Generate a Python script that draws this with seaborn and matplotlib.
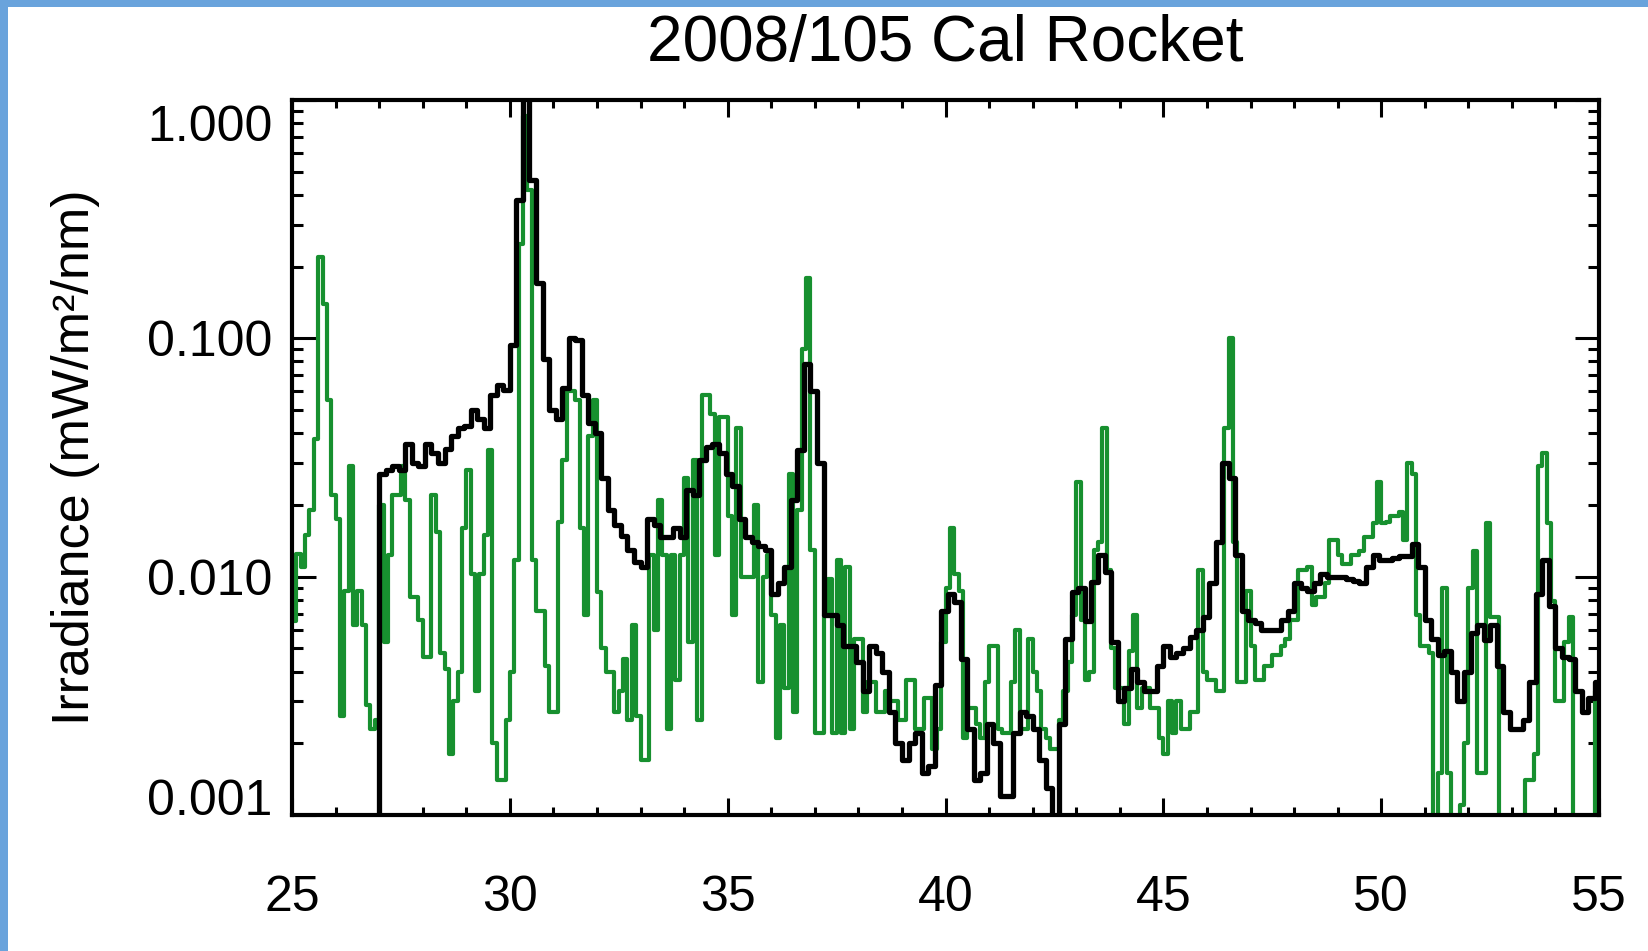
import numpy as np
import pandas as pd
import matplotlib
matplotlib.use("Agg")
import matplotlib.pyplot as plt
from matplotlib.patches import Rectangle
from matplotlib.transforms import ScaledTranslation
from matplotlib.ticker import FixedLocator, LogLocator, NullFormatter, MultipleLocator
import seaborn as sns

# ---------------------------------------------------------------- data
title = "2008/105 Cal Rocket"
y_label = "Irradiance (mW/m²/nm)"
x_ticks = [25, 30, 35, 40, 45, 50, 55]
y_ticks = [0.001, 0.01, 0.1, 1.0]
y_tick_labels = ["0.001", "0.010", "0.100", "1.000"]

# black spectrum: 0.15 nm bins, centres from 26.925 nm (first bin empty)
black_start, black_step = 26.925, 0.15
black_irr = [
    0.0005,
    # 27.00 - 28.35
    0.027, 0.028, 0.029, 0.028, 0.036, 0.030, 0.029, 0.036, 0.033, 0.030,
    # 28.50 - 29.85
    0.0345, 0.039, 0.042, 0.043, 0.050, 0.046, 0.042, 0.058, 0.064, 0.061,
    # 30.00 - 31.35
    0.094, 0.38, 1.15, 0.46, 0.17, 0.082, 0.050, 0.046, 0.062, 0.100,
    # 31.50 - 32.85
    0.098, 0.058, 0.044, 0.040, 0.026, 0.019, 0.0165, 0.0148, 0.013, 0.0115,
    # 33.00 - 34.35
    0.011, 0.0175, 0.0165, 0.0147, 0.0147, 0.016, 0.0147, 0.023, 0.022, 0.031,
    # 34.50 - 35.85
    0.035, 0.036, 0.033, 0.027, 0.024, 0.0175, 0.0147, 0.014, 0.0135, 0.013,
    # 36.00 - 37.35
    0.0085, 0.0094, 0.011, 0.021, 0.034, 0.078, 0.060, 0.030, 0.0069, 0.0069,
    # 37.50 - 38.85
    0.0063, 0.0051, 0.0051, 0.0044, 0.0033, 0.0051, 0.0048, 0.0040, 0.0027, 0.0020,
    # 39.00 - 40.35
    0.0017, 0.0020, 0.0022, 0.0015, 0.0016, 0.0035, 0.0072, 0.0085, 0.0078, 0.0045,
    # 40.50 - 41.85
    0.0023, 0.0014, 0.0015, 0.0024, 0.0020, 0.0012, 0.0012, 0.0022, 0.0027, 0.0026,
    # 42.00 - 43.35
    0.0023, 0.0017, 0.0013, 0.0009, 0.0024, 0.0055, 0.0086, 0.0090, 0.0065, 0.0095,
    # 43.50 - 44.85
    0.0123, 0.0105, 0.0053, 0.0030, 0.0034, 0.0041, 0.0036, 0.0033, 0.0033, 0.0042,
    # 45.00 - 46.35
    0.0051, 0.0046, 0.0048, 0.0050, 0.0056, 0.0060, 0.0068, 0.0094, 0.014, 0.030,
    # 46.50 - 47.85
    0.026, 0.0123, 0.0072, 0.0066, 0.0064, 0.0060, 0.0060, 0.0060, 0.0066, 0.0072,
    # 48.00 - 49.35
    0.0094, 0.0090, 0.0087, 0.0094, 0.0103, 0.0100, 0.0100, 0.0100, 0.0098, 0.0096,
    # 49.50 - 50.85
    0.0094, 0.011, 0.0123, 0.0118, 0.0118, 0.0120, 0.0122, 0.0122, 0.0137, 0.011,
    # 51.00 - 52.35
    0.0066, 0.0055, 0.0047, 0.0049, 0.0040, 0.0030, 0.0040, 0.0058, 0.0063, 0.0054,
    # 52.50 - 53.85
    0.0063, 0.0042, 0.0027, 0.0023, 0.0023, 0.0025, 0.0036, 0.0085, 0.0118, 0.0075,
    # 54.00 - 54.90
    0.0050, 0.0046, 0.0045, 0.0033, 0.0027, 0.0031, 0.0036,
]

# green spectrum: 0.1 nm bins, centres from 25.05 nm
green_start, green_step = 25.05, 0.1
green_irr = [
    # 25 - 26 nm
    0.0065, 0.0125, 0.011, 0.015, 0.019, 0.038, 0.22, 0.14, 0.055, 0.022,
    # 26 - 27
    0.0175, 0.0026, 0.0087, 0.029, 0.0063, 0.0087, 0.0063, 0.0029, 0.0023, 0.0025,
    # 27 - 28
    0.020, 0.0053, 0.0123, 0.022, 0.022, 0.029, 0.021, 0.0082, 0.0082, 0.0066,
    # 28 - 29
    0.0046, 0.0046, 0.022, 0.0154, 0.0048, 0.0041, 0.0018, 0.0030, 0.0040, 0.016,
    # 29 - 30
    0.028, 0.0103, 0.0033, 0.0103, 0.015, 0.034, 0.0020, 0.0014, 0.0014, 0.0025,
    # 30 - 31
    0.0040, 0.0118, 0.25, 0.86, 0.42, 0.0118, 0.0072, 0.0072, 0.0042, 0.0027,
    # 31 - 32
    0.0027, 0.017, 0.031, 0.060, 0.060, 0.055, 0.016, 0.0069, 0.039, 0.055,
    # 32 - 33
    0.0086, 0.0050, 0.0040, 0.0040, 0.0027, 0.0033, 0.0045, 0.0025, 0.0063, 0.0026,
    # 33 - 34
    0.0017, 0.0017, 0.0123, 0.0060, 0.021, 0.0123, 0.0023, 0.0123, 0.0037, 0.0123,
    # 34 - 35
    0.026, 0.0053, 0.031, 0.0025, 0.058, 0.058, 0.048, 0.0123, 0.047, 0.047,
    # 35 - 36
    0.018, 0.0069, 0.042, 0.010, 0.010, 0.010, 0.020, 0.0036, 0.010, 0.0123,
    # 36 - 37
    0.0069, 0.0021, 0.0063, 0.0034, 0.027, 0.0027, 0.019, 0.090, 0.18, 0.013,
    # 37 - 38
    0.0022, 0.0022, 0.0069, 0.0098, 0.0022, 0.0118, 0.0022, 0.011, 0.0023, 0.0055,
    # 38 - 39
    0.0055, 0.0027, 0.0036, 0.0036, 0.0027, 0.0027, 0.0033, 0.0030, 0.0030, 0.0025,
    # 39 - 40
    0.0025, 0.0037, 0.0037, 0.0023, 0.0023, 0.0031, 0.0031, 0.0019, 0.0023, 0.0053,
    # 40 - 41
    0.0090, 0.016, 0.0103, 0.0087, 0.0021, 0.0028, 0.0028, 0.0024, 0.0021, 0.0036,
    # 41 - 42
    0.0051, 0.0051, 0.0023, 0.0022, 0.0022, 0.0036, 0.0060, 0.0023, 0.0023, 0.0055,
    # 42 - 43
    0.0040, 0.0033, 0.0023, 0.0021, 0.0019, 0.0019, 0.0025, 0.0033, 0.0044, 0.0069,
    # 43 - 44
    0.025, 0.0066, 0.0037, 0.0040, 0.013, 0.014, 0.042, 0.0107, 0.0050, 0.0034,
    # 44 - 45
    0.0034, 0.0024, 0.0049, 0.0069, 0.0028, 0.0034, 0.0034, 0.0028, 0.0028, 0.0021,
    # 45 - 46
    0.0018, 0.0030, 0.0022, 0.0030, 0.0023, 0.0023, 0.0027, 0.0027, 0.0107, 0.0040,
    # 46 - 47
    0.0037, 0.0037, 0.0033, 0.0033, 0.042, 0.10, 0.014, 0.0036, 0.0036, 0.0087,
    # 47 - 48
    0.0051, 0.0037, 0.0037, 0.0042, 0.0042, 0.0047, 0.0047, 0.0051, 0.0055, 0.0066,
    # 48 - 49
    0.0066, 0.0107, 0.0107, 0.011, 0.0076, 0.0082, 0.0082, 0.0094, 0.0143, 0.0143,
    # 49 - 50
    0.0123, 0.0113, 0.0113, 0.0123, 0.0123, 0.0128, 0.0147, 0.0147, 0.0168, 0.025,
    # 50 - 51
    0.0168, 0.017, 0.018, 0.018, 0.0187, 0.0143, 0.030, 0.027, 0.0069, 0.0051,
    # 51 - 52
    0.0051, 0.0048, 0.0008, 0.0015, 0.0090, 0.0015, 0.0008, 0.0008, 0.0011, 0.0020,
    # 52 - 53
    0.0090, 0.0128, 0.0015, 0.0015, 0.0168, 0.0068, 0.0068, 0.0008, 0.0008, 0.0008,
    # 53 - 54
    0.0008, 0.0008, 0.00095, 0.0014, 0.0014, 0.0018, 0.029, 0.033, 0.0168, 0.0079,
    # 54 - 55
    0.0030, 0.0030, 0.0053, 0.0068, 0.0008, 0.0008, 0.0008, 0.0008, 0.00095, 0.0033,
]

black_wl = np.round(black_start + black_step * np.arange(len(black_irr)), 3)
green_wl = np.round(green_start + green_step * np.arange(len(green_irr)), 3)
black_df = pd.DataFrame({"wavelength": black_wl, "irradiance": black_irr})
green_df = pd.DataFrame({"wavelength": green_wl, "irradiance": green_irr})

# ---------------------------------------------------------------- style
sns.set_theme(style="ticks")
plt.rcParams.update({
    "axes.edgecolor": "black",
    "axes.linewidth": 3.0,
    "xtick.color": "black",
    "ytick.color": "black",
    "text.color": "black",
    "axes.labelcolor": "black",
})
plt.rcParams["font.family"] = ["Liberation Sans", "DejaVu Sans"]

GREEN = "#17902f"
BLUE = "#69a3dc"

fig = plt.figure(figsize=(16.48, 9.51), dpi=100)
ax = fig.add_axes([0.1772, 0.1430, 0.7931, 0.7518])

sns.lineplot(data=green_df, x="wavelength", y="irradiance", color=GREEN,
             linewidth=3.0, drawstyle="steps-mid", estimator=None, sort=False,
             legend=False, ax=ax)
sns.lineplot(data=black_df, x="wavelength", y="irradiance", color="black",
             linewidth=3.8, drawstyle="steps-mid", estimator=None, sort=False,
             legend=False, ax=ax)

ax.set_yscale("log")
ax.set_xlim(25, 55)
ax.set_ylim(0.001, 1.0)
ax.set_xlabel("")

ax.xaxis.set_major_locator(FixedLocator(x_ticks))
ax.xaxis.set_minor_locator(MultipleLocator(1))
ax.set_xticklabels([str(t) for t in x_ticks])
ax.yaxis.set_major_locator(FixedLocator(y_ticks))
ax.yaxis.set_minor_locator(LogLocator(base=10, subs=np.arange(2, 10)))
ax.yaxis.set_minor_formatter(NullFormatter())
ax.set_yticklabels(y_tick_labels)

ax.tick_params(axis="x", which="major", direction="in", length=12, width=2.2,
               top=True, bottom=True, labelsize=36, pad=43)
ax.tick_params(axis="x", which="minor", direction="in", length=6, width=2.2,
               top=True, bottom=True)
ax.tick_params(axis="y", which="major", direction="in", length=17, width=2.2,
               left=True, right=True, labelsize=36, pad=14)
ax.tick_params(axis="y", which="minor", direction="in", length=8, width=2.2,
               left=True, right=True)

# keep the end labels of the y axis inside the frame height
ytick_objs = ax.yaxis.get_major_ticks()
ytick_objs[0].label1.set_va("baseline")
top_label = ytick_objs[-1].label1
top_label.set_va("top")
top_label.set_transform(top_label.get_transform()
                        + ScaledTranslation(0, -0.05, fig.dpi_scale_trans))

for side in ax.spines.values():
    side.set_linewidth(3.0)
    side.set_color("black")

ax.set_title(title, fontsize=46, pad=28)
ax.set_ylabel(y_label, fontsize=37.5)
ax.yaxis.set_label_coords(-0.147, 0.5)

# blue frame strips on the left and top edges of the canvas
fig.add_artist(Rectangle((0, 0), 8 / 1648, 1, transform=fig.transFigure,
                         facecolor=BLUE, edgecolor="none"))
fig.add_artist(Rectangle((0, 1 - 7 / 951), 1, 7 / 951, transform=fig.transFigure,
                         facecolor=BLUE, edgecolor="none"))

fig.savefig("out.png", dpi=100)
